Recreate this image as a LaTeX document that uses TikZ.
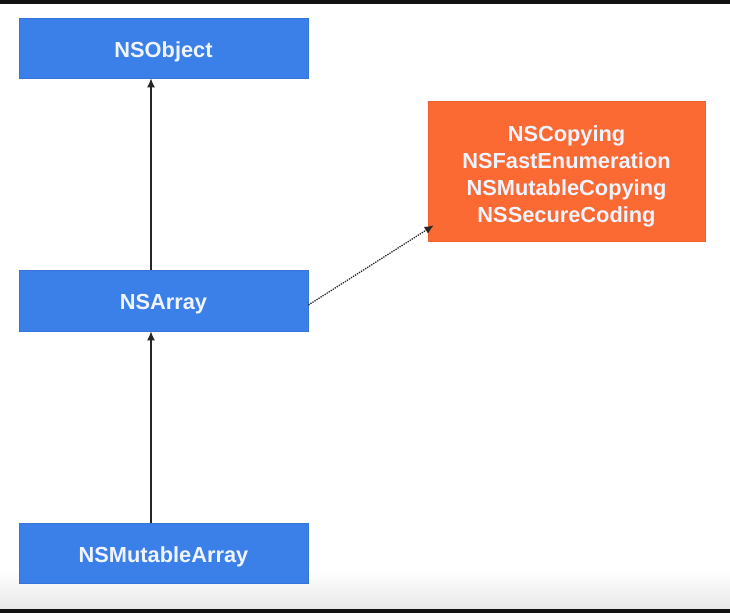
\documentclass[tikz,border=0pt]{standalone}
\usepackage{fontspec}
\setmainfont{Liberation Sans}
\usetikzlibrary{calc,arrows.meta}
\definecolor{boxblue}{RGB}{59,128,232}
\definecolor{boxblueedge}{RGB}{54,116,215}
\definecolor{boxorange}{RGB}{251,106,50}
\definecolor{boxorangeedge}{RGB}{236,98,45}
\definecolor{txtwhite}{RGB}{240,244,255}
\tikzset{
  classbox/.style={rectangle, fill=boxblue, draw=boxblueedge, line width=0.8pt,
    minimum width=289pt, minimum height=60pt, inner sep=0pt,
    text height=20pt, text depth=2pt,
    text=txtwhite, font=\fontsize{21.8}{27}\selectfont\bfseries},
  protobox/.style={rectangle, fill=boxorange, draw=boxorangeedge, line width=0.8pt,
    minimum width=277pt, minimum height=140pt, inner sep=0pt, align=center,
    text=txtwhite, font=\fontsize{21.8}{27}\selectfont\bfseries},
  inherit/.style={line width=1.2pt, draw=black!85, -{Latex[length=9pt,width=8pt]}},
  conform/.style={line width=1.3pt, draw=black!85, dash pattern=on 1.3pt off 1.1pt,
    -{Latex[length=9pt,width=8pt]}}
}
\begin{document}
\begin{tikzpicture}[x=1pt,y=-1pt]
\useasboundingbox (0,0) rectangle (730,613);
\fill[white] (0,0) rectangle (730,613);
\shade[top color=white, bottom color=black!9] (0,570) rectangle (730,609);
\fill[black!93] (0,0) rectangle (730,4);
\fill[black!93] (0,609) rectangle (730,613);

\node[classbox] (obj) at (163.5,48) {NSObject};
\node[classbox, minimum height=61pt] (arr) at (163.5,300.5) {NSArray};
\node[classbox] (mut) at (163.5,553) {NSMutableArray};
\node[protobox] (ifc) at (566.5,171) {\rule{0pt}{26pt}NSCopying\\NSFastEnumeration\\NSMutableCopying\\NSSecureCoding};

\draw[inherit] ($(arr.north)+(-12.5,0)$) -- ($(obj.south)+(-12.5,0)$);
\draw[inherit] ($(mut.north)+(-12.5,0)$) -- ($(arr.south)+(-12.5,0)$);
\draw[conform] ($(arr.east)+(0,4.5)$) -- ($(ifc.south west)+(6,-16)$);
\end{tikzpicture}
\end{document}
